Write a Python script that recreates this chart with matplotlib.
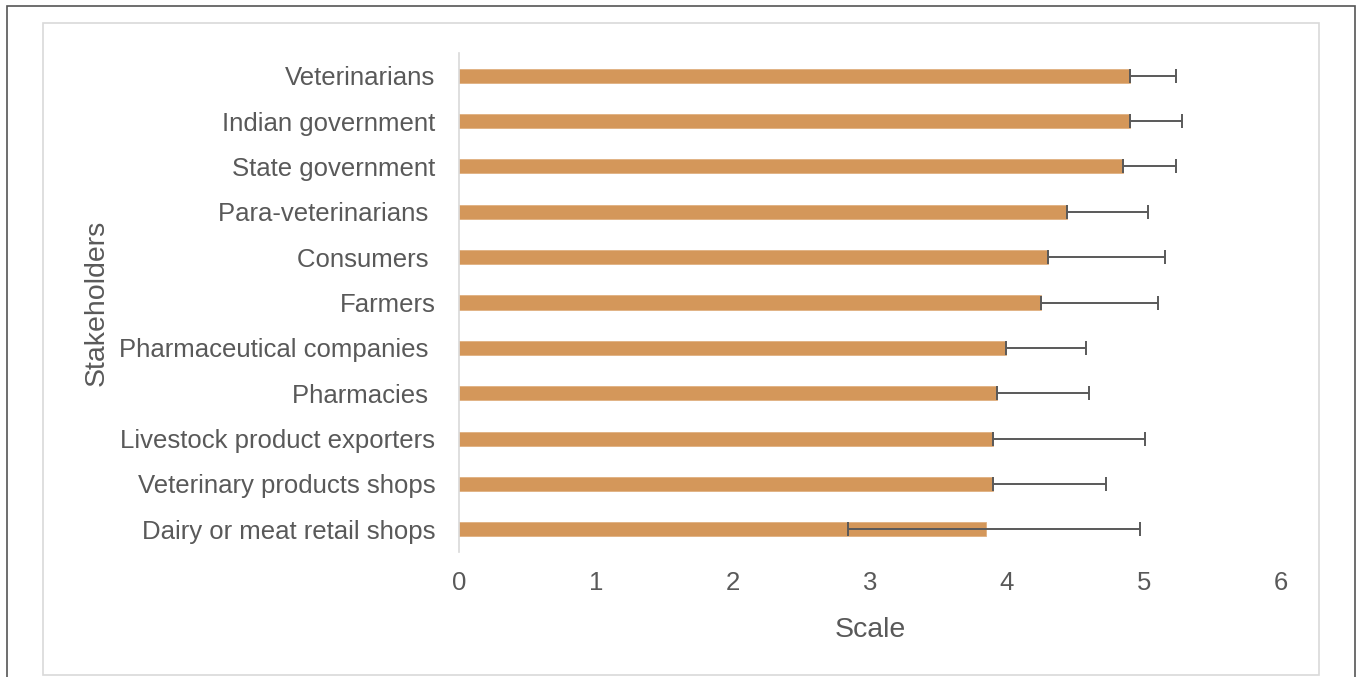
import matplotlib.pyplot as plt
from matplotlib.patches import Rectangle

# stakeholders, top to bottom as shown in the chart
stakeholders = ['Veterinarians', 'Indian government', 'State government',
                'Para-veterinarians ', 'Consumers ', 'Farmers',
                'Pharmaceutical companies ', 'Pharmacies ',
                'Livestock product exporters', 'Veterinary products shops',
                'Dairy or meat retail shops']
means = [4.90, 4.90, 4.85, 4.44, 4.30, 4.25, 3.99, 3.93, 3.90, 3.90, 3.85]
err_plus = [0.33, 0.38, 0.38, 0.59, 0.85, 0.85, 0.59, 0.67, 1.11, 0.82, 1.12]
err_minus = [0, 0, 0, 0, 0, 0, 0, 0, 0, 0, 1.01]
xticks = [0, 1, 2, 3, 4, 5, 6]

W, H = 1357, 677
fig = plt.figure(figsize=(W / 100, H / 100), dpi=100)
plt.rcParams['font.family'] = ['Liberation Sans', 'DejaVu Sans']

# frame lines around the picture
fig.patches.append(Rectangle((7 / W, -0.05), 1348 / W, 1 - 6 / H + 0.05,
                             transform=fig.transFigure, fill=False,
                             edgecolor='#555555', lw=1.2))
fig.patches.append(Rectangle((43 / W, 1 - 675 / H), 1276 / W, 652 / H,
                             transform=fig.transFigure, fill=False,
                             edgecolor='#d9d9d9', lw=1.2))

ax = fig.add_axes([459 / W, 1 - 552 / H, 822 / W, 499 / H])
ypos = list(range(len(stakeholders)))
ax.barh(ypos, means, height=0.31, color='#d4975a', edgecolor='#e0b080', lw=0.6)
ax.errorbar(means, ypos, xerr=[err_minus, err_plus], fmt='none',
            ecolor='#595959', elinewidth=1.4, capsize=5, capthick=1.4)

ax.set_xlim(0, 6)
ax.set_ylim(len(stakeholders) - 0.5, -0.5)
ax.set_xticks(xticks)
ax.set_yticks(ypos)
ax.set_yticklabels(stakeholders)
ax.tick_params(axis='both', length=0, labelsize=18.5, labelcolor='#595959')
ax.tick_params(axis='y', pad=17)
ax.tick_params(axis='x', pad=14)

for s in ['top', 'right', 'bottom']:
    ax.spines[s].set_visible(False)
ax.spines['left'].set_color('#d9d9d9')
ax.spines['left'].set_linewidth(1.2)

ax.set_xlabel('Scale', fontsize=20.5, color='#595959')
ax.set_ylabel('Stakeholders', fontsize=20.5, color='#595959')
ax.xaxis.set_label_coords(0.5, -0.130)
ax.yaxis.set_label_coords(-0.4246, 0.5)

fig.savefig('out.png', dpi=100)
